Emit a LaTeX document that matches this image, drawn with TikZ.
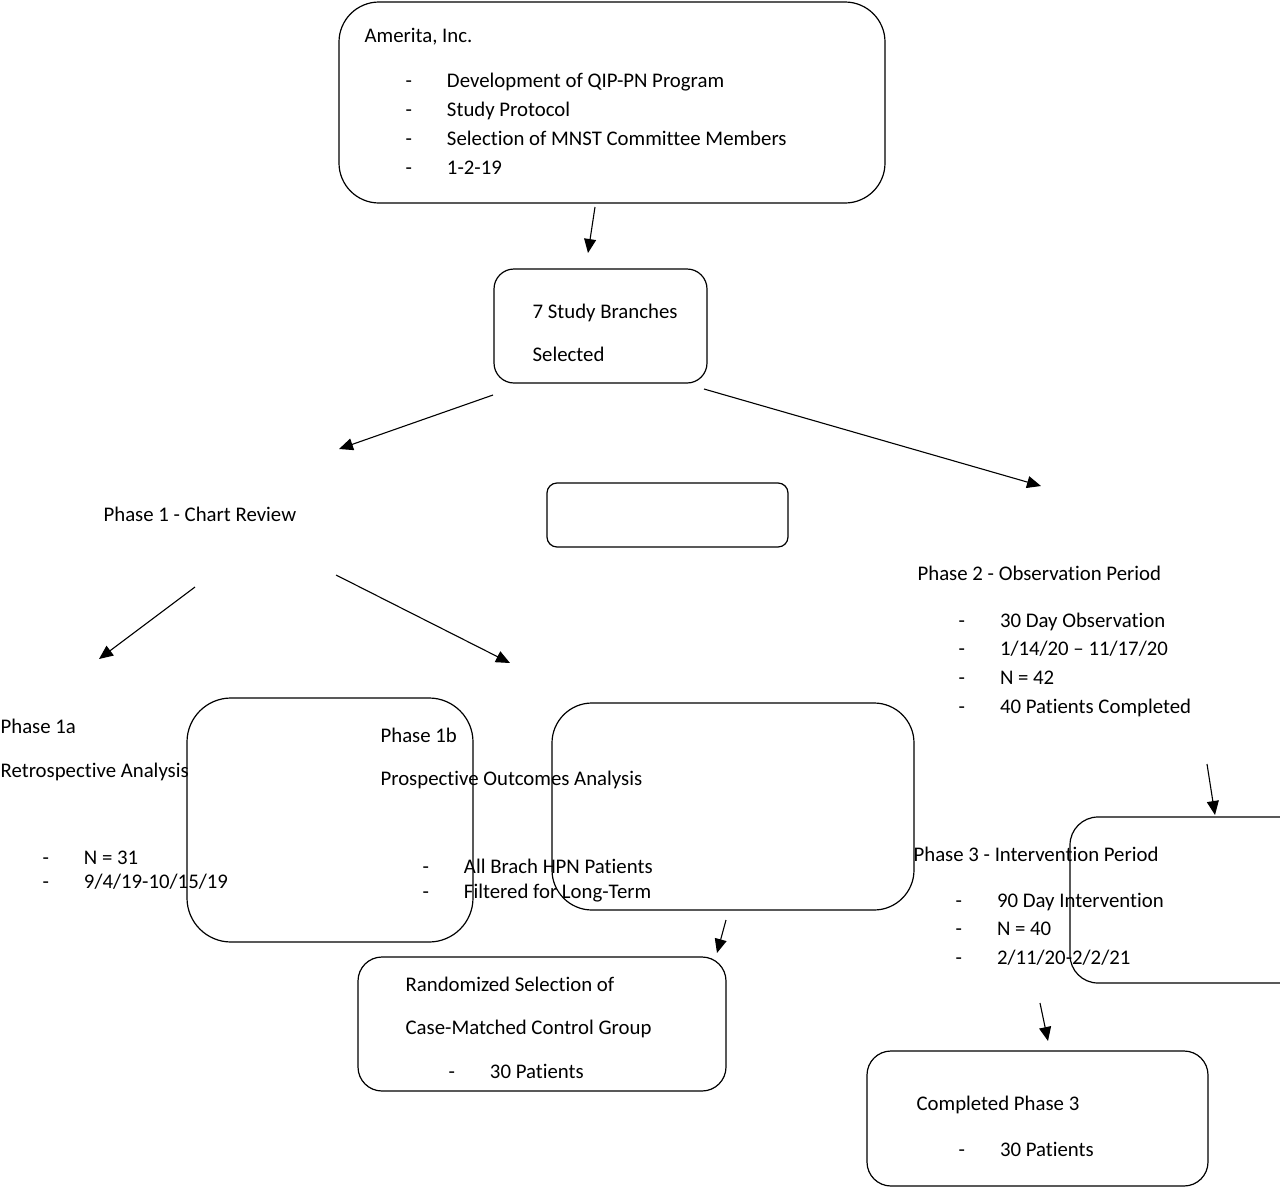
\documentclass[tikz,border=0pt]{standalone}
\usepackage{fontspec}
\setmainfont[Ligatures={NoCommon,NoContextual}]{Carlito}
\usetikzlibrary{arrows.meta}
\usetikzlibrary{positioning}
\newcommand{\dashitem}[1]{\makebox[20.7pt][l]{-}#1}

\begin{document}
\begin{tikzpicture}[x=0.5pt,y=-0.5pt,line width=0.6pt,
	box/.style={draw, inner sep=0pt},
	lbl/.style={anchor=base west, inner sep=0pt, font=\fontsize{10.4}{12.5}\selectfont},
	arr/.style={-{Triangle[length=7pt,width=6pt]}, line width=0.55pt}]
	\useasboundingbox (0,0) rectangle (1280,1189);
	\clip (0,0) rectangle (1280,1189);

	% boxes
	\node[box, rounded corners=20pt, minimum width=273pt, minimum height=100.5pt] (amerita) at (612,102.5) {};
	\node[box, rounded corners=10pt, minimum width=106.5pt, minimum height=57pt] (branches) at (600.5,326) {};
	\node[box, rounded corners=5pt, minimum width=120.5pt, minimum height=32pt] (empty) at (667.5,515) {};
	\node[box, rounded corners=22pt, minimum width=143pt, minimum height=122pt] (boxa) at (330,820) {};
	\node[box, rounded corners=20pt, minimum width=181pt, minimum height=103.5pt] (boxb) at (733,806.5) {};
	\node[box, rounded corners=12pt, minimum width=184pt, minimum height=67pt] (control) at (542,1024) {};
	\node[box, rounded corners=14pt, minimum width=165pt, minimum height=83pt] (boxc) at (1235,900) {};
	\node[box, rounded corners=12pt, minimum width=170.5pt, minimum height=67.5pt] (completed) at (1037.5,1118.5) {};

	% texts
	\node[lbl] (ameritaT) at (364,42) {Amerita, Inc.};
	\foreach \t [count=\i from 0] in {Development of QIP-PN Program, Study Protocol, Selection of MNST Committee Members, 1-2-19}
		\node[lbl] (amerita\i) at (405,{87+29*\i}) {\dashitem{\t}};

	\node[lbl] (branchesT) at (532,318) {7 Study Branches};
	\node[lbl] (branchesS) at (532,361) {Selected};

	\node[lbl] (phaseone) at (103,521) {Phase 1 - Chart Review};

	\node[lbl] (phasetwo) at (917,580) {Phase 2 - Observation Period};
	\foreach \t [count=\i from 0] in {30 Day Observation, 1/14/20 – 11/17/20, N = 42, 40 Patients Completed}
		\node[lbl] (phasetwo\i) at (958,{627+28.7*\i}) {\dashitem{\t}};

	\node[lbl] (onea) at (0,733) {Phase 1a};
	\node[lbl] (oneaS) at (0,777) {Retrospective Analysis};
	\foreach \t [count=\i from 0] in {N = 31, 9/4/19-10/15/19}
		\node[lbl] (onea\i) at (42,{864+24*\i}) {\dashitem{\t}};

	\node[lbl] (oneb) at (380,742) {Phase 1b};
	\node[lbl] (onebS) at (380,785) {Prospective Outcomes Analysis};
	\foreach \t [count=\i from 0] in {All Brach HPN Patients, Filtered for Long-Term}
		\node[lbl] (oneb\i) at (422,{873+25*\i}) {\dashitem{\t}};

	\node[lbl] (phasethree) at (913,861) {Phase 3 - Intervention Period};
	\foreach \t [count=\i from 0] in {90 Day Intervention, N = 40, 2/11/20-2/2/21}
		\node[lbl] (phasethree\i) at (955,{907+28.5*\i}) {\dashitem{\t}};

	\node[lbl] (controlT) at (405,991) {Randomized Selection of};
	\node[lbl] (controlS) at (405,1034) {Case-Matched Control Group};
	\node[lbl] (control0) at (448,1078) {\dashitem{30 Patients}};

	\node[lbl] (completedT) at (916,1110) {Completed Phase 3};
	\node[lbl] (completed0) at (958,1156) {\dashitem{30 Patients}};

	% arrow ends
	\coordinate (a1s) at (595,207);  \coordinate (a1e) at (588,253);
	\coordinate (a2s) at (493,395);  \coordinate (a2e) at (339,449);
	\coordinate (a3s) at (704,389);  \coordinate (a3e) at (1041,486);
	\coordinate (a4s) at (195,587);  \coordinate (a4e) at (99,659);
	\coordinate (a5s) at (336,575);  \coordinate (a5e) at (510,663);
	\coordinate (a6s) at (1207,764); \coordinate (a6e) at (1215,815);
	\coordinate (a7s) at (726,920);  \coordinate (a7e) at (717,953);
	\coordinate (a8s) at (1040,1003); \coordinate (a8e) at (1048,1041);

	\path[arr]
		(a1s) edge (a1e)
		(a2s) edge (a2e)
		(a3s) edge (a3e)
		(a4s) edge (a4e)
		(a5s) edge (a5e)
		(a6s) edge (a6e)
		(a7s) edge (a7e)
		(a8s) edge (a8e);
\end{tikzpicture}
\end{document}
